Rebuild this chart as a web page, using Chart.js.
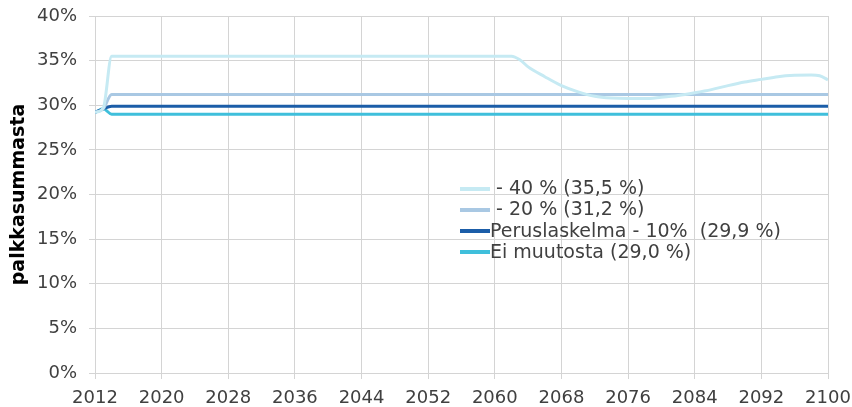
<!DOCTYPE html>
<html>
<head>
<meta charset="utf-8">
<script src="https://cdn.jsdelivr.net/npm/chart.js@4.4.0/dist/chart.umd.js"></script>
<style>
  html, body { margin: 0; padding: 0; background: #ffffff; }
  #wrap { position: relative; width: 852px; height: 407px; }
  #legend {
    position: absolute; left: 460px; top: 177px;
    font-family: 'DejaVu Sans', Verdana, sans-serif; font-size: 19px; color: #404040;
  }
  #legend .row { height: 21.3px; line-height: 21px; white-space: pre; }
  #legend .swatch { display: inline-block; width: 30px; height: 4px; vertical-align: middle; }
</style>
</head>
<body>
<div id="wrap">
  <canvas id="chart" width="852" height="407"></canvas>
  <div id="legend"></div>
</div>
<script>
// Series: -40 %
const years40 = [2012, 2013, 2014, 2062, 2063, 2064, 2066, 2068, 2070, 2072, 2074, 2076, 2078, 2080, 2082, 2084, 2086, 2088, 2090, 2092, 2094, 2096, 2098, 2099, 2100];
const values40 = [29.2, 29.7, 35.5, 35.5, 35.1, 34.3, 33.2, 32.2, 31.5, 31.0, 30.8, 30.75, 30.75, 30.9, 31.1, 31.4, 31.75, 32.2, 32.6, 32.9, 33.2, 33.35, 33.4, 33.3, 32.85];

// Series: -20 %
const years20 = [2012, 2013, 2014, 2100];
const values20 = [29.2, 29.6, 31.2, 31.2];

// Series: Peruslaskelma - 10%
const yearsBase = [2012, 2013, 2014, 2100];
const valuesBase = [29.2, 29.6, 29.9, 29.9];

// Series: Ei muutosta
const yearsNone = [2012, 2013, 2014, 2100];
const valuesNone = [29.2, 29.6, 29.0, 29.0];

const seriesNames = [' - 40 % (35,5 %)', ' - 20 % (31,2 %)', 'Peruslaskelma - 10%  (29,9 %)', 'Ei muutosta (29,0 %)'];
const seriesColors = ['#c6eaf3', '#a9c8e3', '#1b5da8', '#3fbfdb'];

const xMin = 2012, xMax = 2100, xStep = 8;
const yMin = 0, yMax = 40, yStep = 5;

function toPoints(xs, ys) {
    return xs.map((x, i) => ({ x: x, y: ys[i] }));
}

const seriesData = [
    toPoints(years40, values40),
    toPoints(years20, values20),
    toPoints(yearsBase, valuesBase),
    toPoints(yearsNone, valuesNone)
];

const font = "'DejaVu Sans', Verdana, sans-serif";

const ctx = document.getElementById('chart').getContext('2d');
new Chart(ctx, {
    type: 'line',
    data: {
        datasets: seriesData.map((pts, i) => ({
            label: seriesNames[i],
            data: pts,
            borderColor: seriesColors[i],
            backgroundColor: seriesColors[i],
            borderWidth: 3,
            pointRadius: 0,
            cubicInterpolationMode: 'monotone',
            fill: false
        }))
    },
    options: {
        responsive: false,
        animation: false,
        layout: { padding: { top: 16, right: 24, left: 8, bottom: 0 } },
        plugins: {
            legend: { display: false },
            tooltip: { enabled: false }
        },
        scales: {
            x: {
                type: 'linear',
                min: xMin,
                max: xMax,
                ticks: {
                    stepSize: xStep,
                    color: '#404040',
                    font: { family: font, size: 18 },
                    maxRotation: 0,
                    padding: 9,
                    callback: v => String(v)
                },
                grid: { color: '#d4d4d4', lineWidth: 1, tickLength: 6 },
                border: { color: '#d4d4d4' },
                afterFit: s => {
                    s.height = 34;
                    s.paddingLeft = 0;
                    s.paddingRight = 0;
                }
            },
            y: {
                min: yMin,
                max: yMax,
                ticks: {
                    stepSize: yStep,
                    color: '#404040',
                    font: { family: font, size: 18 },
                    padding: 12,
                    callback: v => v + '%'
                },
                grid: { color: '#d4d4d4', lineWidth: 1, tickLength: 6 },
                border: { color: '#d4d4d4' },
                title: {
                    display: true,
                    text: 'palkkasummasta',
                    color: '#000000',
                    font: { family: font, size: 19, weight: 'bold' },
                    padding: 0
                },
                afterFit: s => {
                    s.width = 87;
                    s.paddingTop = 0;
                    s.paddingBottom = 0;
                }
            }
        }
    }
});

const legend = document.getElementById('legend');
seriesNames.forEach((name, i) => {
    const row = document.createElement('div');
    row.className = 'row';
    const sw = document.createElement('span');
    sw.className = 'swatch';
    sw.style.background = seriesColors[i];
    row.appendChild(sw);
    row.appendChild(document.createTextNode(name));
    legend.appendChild(row);
});
</script>
</body>
</html>
